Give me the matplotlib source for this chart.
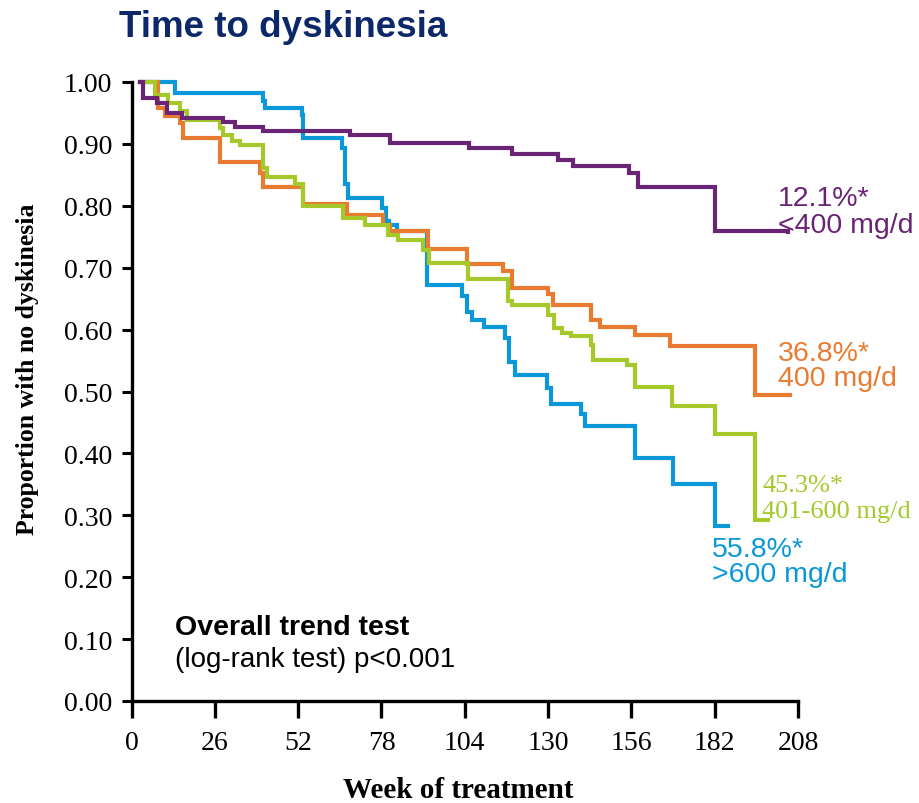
import matplotlib
matplotlib.use("Agg")
import matplotlib.pyplot as plt

# Kaplan-Meier estimates by levodopa dose group (week, proportion without dyskinesia)
low_weeks = [2.7, 3.5, 7.9, 11.0, 15.7, 28.6, 32.3, 41.0, 68.2, 80.7, 105.3, 118.7,
             133.1, 137.8, 155.3, 158.1, 182.1, 204.9]
low_surv = [1.000, 0.974, 0.966, 0.950, 0.942, 0.936, 0.927, 0.921, 0.914, 0.901, 0.893,
            0.883, 0.874, 0.865, 0.853, 0.830, 0.759, 0.757]

d400_weeks = [2.7, 8.3, 10.5, 15.1, 16.1, 27.6, 40.1, 41.0, 53.5, 67.2, 78.5, 80.7, 92.5,
              104.7, 115.9, 118.7, 130.0, 131.6, 143.3, 146.2, 157.1, 168.1, 194.6, 205.5]
d400_surv = [1.000, 0.958, 0.945, 0.934, 0.909, 0.870, 0.853, 0.831, 0.803, 0.785, 0.769,
             0.759, 0.731, 0.706, 0.695, 0.668, 0.657, 0.640, 0.615, 0.604, 0.591, 0.573,
             0.494, 0.494]

mid_weeks = [2.7, 7.3, 11.4, 15.1, 17.2, 27.6, 28.6, 31.3, 33.9, 41.0, 42.2, 51.0, 53.5,
             66.0, 72.9, 80.1, 83.2, 91.0, 92.9, 105.0, 117.5, 118.7, 130.0, 131.9, 134.3,
             137.1, 143.3, 144.0, 154.7, 157.1, 168.6, 182.1, 194.6, 198.7]
mid_surv = [1.000, 0.979, 0.966, 0.953, 0.939, 0.925, 0.915, 0.905, 0.898, 0.861, 0.847,
            0.836, 0.799, 0.780, 0.769, 0.753, 0.745, 0.729, 0.707, 0.681, 0.646, 0.639,
            0.623, 0.603, 0.594, 0.589, 0.575, 0.551, 0.543, 0.508, 0.476, 0.432, 0.292,
            0.292]

high_weeks = [2.7, 13.6, 41.0, 41.7, 53.1, 53.5, 65.6, 66.6, 67.6, 78.1, 79.5, 80.3, 82.8,
              92.1, 103.1, 104.7, 106.2, 110.0, 116.6, 117.8, 119.7, 129.7, 130.8, 140.3,
              141.5, 157.1, 169.0, 182.1, 186.2]
high_surv = [1.000, 0.982, 0.969, 0.958, 0.947, 0.909, 0.893, 0.836, 0.812, 0.796, 0.775,
             0.769, 0.759, 0.672, 0.654, 0.629, 0.615, 0.605, 0.586, 0.547, 0.526, 0.505,
             0.479, 0.464, 0.445, 0.392, 0.351, 0.282, 0.282]

# end-of-curve labels: cumulative incidence and dose group
pct_labels = ["12.1%*", "36.8%*", "45.3%*", "55.8%*"]
dose_labels = ["<400 mg/d", "400 mg/d", "401-600 mg/d", ">600 mg/d"]

x_ticks = [0, 26, 52, 78, 104, 130, 156, 182, 208]
y_ticks = [0.0, 0.1, 0.2, 0.3, 0.4, 0.5, 0.6, 0.7, 0.8, 0.9, 1.0]

purple = "#6a2475"
orange = "#e97b30"
green = "#a5c82a"
blue = "#0a98d8"
navy = "#0c2868"

SANS = ["Liberation Sans", "DejaVu Sans"]
SERIF = ["Liberation Serif", "DejaVu Serif"]

fig = plt.figure(figsize=(9.2, 8.04), dpi=100)
ax = fig.add_axes([131.5 / 920, 1 - 702 / 804, (798 - 131.5) / 920, (702 - 83) / 804])

lw = 3
for wk, sv, col in [(high_weeks, high_surv, blue), (d400_weeks, d400_surv, orange),
                    (mid_weeks, mid_surv, green), (low_weeks, low_surv, purple)]:
    ax.step(wk, sv, where="post", color=col, lw=lw, clip_on=False,
            solid_joinstyle="miter")

ax.set_xlim(0, 208)
ax.set_ylim(0, 1)
ax.set_xticks(x_ticks)
ax.set_yticks(y_ticks)
ax.set_yticklabels(["%.2f" % v for v in y_ticks])
for side in ["top", "right"]:
    ax.spines[side].set_visible(False)
for side in ["left", "bottom"]:
    ax.spines[side].set_linewidth(2.4)
ax.tick_params(axis="y", direction="out", length=7, width=2.2, pad=7)
ax.tick_params(axis="x", direction="out", length=12, width=2.4, pad=9)
for lab in ax.get_xticklabels() + ax.get_yticklabels():
    lab.set_family(SERIF)
    lab.set_fontsize(20)

# curve labels
label_pos = [(201.8, 0.801, 0.758, purple, SANS, 20.5),
             (201.8, 0.551, 0.510, orange, SANS, 20.5),
             (196.8, 0.339, 0.297, green, SERIF, 19),
             (181.2, 0.234, 0.194, blue, SANS, 20.5)]
for (x, y1, y2, col, fam, fs), pct, dose in zip(label_pos, pct_labels, dose_labels):
    ax.text(x, y1, pct, color=col, family=fam, fontsize=fs, va="baseline")
    ax.text(x, y2, dose, color=col, family=fam, fontsize=fs, va="baseline")

ax.text(13.6, 0.108, "Overall trend test", family=SANS, fontsize=20.5,
        fontweight="bold", va="baseline")
ax.text(13.6, 0.057, "(log-rank test) p<0.001", family=SANS, fontsize=20,
        va="baseline")

fig.text(119 / 920, 1 - 37 / 804, "Time to dyskinesia", family=SANS, fontsize=26.5,
         fontweight="bold", color=navy, va="baseline")
fig.text(28 / 920, 1 - 369 / 804, "Proportion with no dyskinesia", family=SERIF,
         fontsize=18.5, fontweight="bold", rotation=90, ha="center", va="center")
fig.text(458 / 920, 1 - 791 / 804, "Week of treatment", family=SERIF, fontsize=21,
         fontweight="bold", ha="center", va="center")

fig.savefig("out.png", dpi=100)
